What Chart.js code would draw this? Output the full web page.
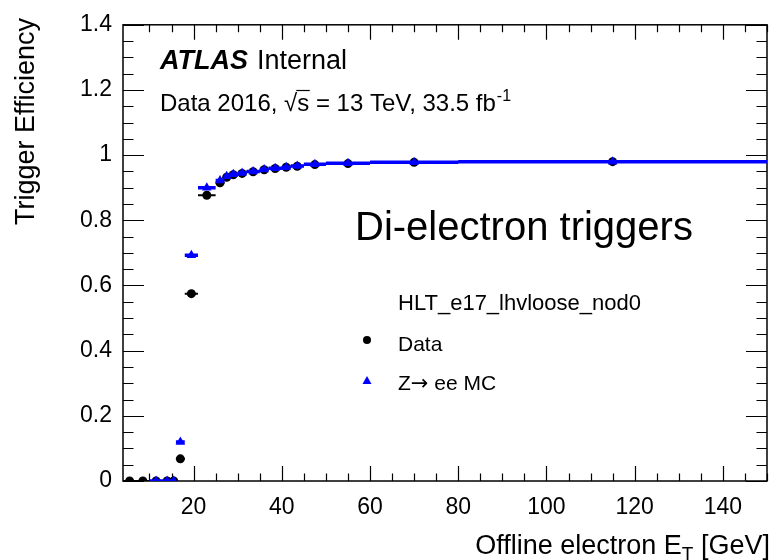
<!DOCTYPE html>
<html>
<head>
<meta charset="utf-8">
<script src="https://cdn.jsdelivr.net/npm/chart.js@4.4.1/dist/chart.umd.min.js"></script>
<style>
  html, body { margin: 0; padding: 0; background: #fff; overflow: hidden; }
  #wrap { width: 772px; height: 560px; overflow: hidden; }
</style>
</head>
<body>
<div id="wrap"><canvas id="effChart" width="780" height="560"></canvas></div>
<script>
// offline electron ET bins [GeV]
var etLow = [4, 7, 10, 13, 15, 16, 18, 21, 25, 27, 28, 30, 32, 35, 37, 40, 42, 45, 50, 60, 80];
var etHigh = [7, 10, 13, 15, 16, 18, 21, 25, 27, 28, 30, 32, 35, 37, 40, 42, 45, 50, 60, 80, 150];
var etCenter = [5.5, 8.5, 11.5, 14, 15.5, 17, 19.5, 23, 26, 27.5, 29, 31, 33.5, 36, 38.5, 41, 43.5, 47.5, 55, 70, 115];

// trigger efficiency, data 2016 and Z->ee MC
var dataEff = [0, 0, 0, 0, 0, 0.068, 0.575, 0.877, 0.915, 0.932, 0.94, 0.944, 0.949, 0.955, 0.959, 0.963, 0.966, 0.971, 0.974, 0.978, 0.980];
var mcEff = [null, null, 0, 0, 0, 0.12, 0.693, 0.90, 0.922, 0.935, 0.941, 0.945, 0.95, 0.956, 0.96, 0.963, 0.967, 0.972, 0.975, 0.978, 0.980];

var xTickLabels = [20, 40, 60, 80, 100, 120, 140];
var yTickLabels = [0, 0.2, 0.4, 0.6, 0.8, 1, 1.2, 1.4];

var FONT = '"Liberation Sans", Arial, Helvetica, sans-serif';

function points(vals) {
  var out = [];
  for (var i = 0; i < vals.length; i++) {
    if (vals[i] === null) continue;
    out.push({ x: etCenter[i], y: vals[i] });
  }
  return out;
}

// horizontal bars spanning each bin, separated by gaps
function binBars(vals) {
  var out = [];
  for (var i = 0; i < vals.length; i++) {
    if (vals[i] === null) continue;
    out.push({ x: etLow[i], y: vals[i] });
    out.push({ x: etHigh[i], y: vals[i] });
    out.push({ x: etHigh[i], y: null });
  }
  return out;
}

var framePlugin = {
  id: "frame",
  beforeDatasetsDraw: function (chart) {
    var ctx = chart.ctx;
    var a = chart.chartArea;
    var xs = chart.scales.x;
    var ys = chart.scales.y;
    ctx.save();
    ctx.strokeStyle = "#000";
    ctx.lineWidth = 1.5;
    ctx.strokeRect(a.left, a.top, a.right - a.left, a.bottom - a.top);
    ctx.lineWidth = 1.2;
    ctx.beginPath();
    xs.ticks.forEach(function (t) {
      var v = t.value;
      if (Math.abs(v / 5 - Math.round(v / 5)) > 1e-6) return;
      var len = Math.round(v) % 20 === 0 ? 15 : 7.5;
      var px = Math.round(xs.getPixelForValue(v)) + 0.5;
      ctx.moveTo(px, a.bottom);
      ctx.lineTo(px, a.bottom - len);
      ctx.moveTo(px, a.top);
      ctx.lineTo(px, a.top + len);
    });
    ys.ticks.forEach(function (t) {
      var k = Math.round(t.value * 100);
      var len = k % 20 === 0 ? 21 : 10.5;
      var py = Math.round(ys.getPixelForValue(t.value)) + 0.5;
      ctx.moveTo(a.left, py);
      ctx.lineTo(a.left + len, py);
      ctx.moveTo(a.right, py);
      ctx.lineTo(a.right - len, py);
    });
    ctx.stroke();
    ctx.restore();
  },
  afterDraw: function (chart) {
    var ctx = chart.ctx;
    ctx.save();
    ctx.fillStyle = "#000";
    ctx.textBaseline = "alphabetic";
    ctx.textAlign = "left";

    // ATLAS Internal
    ctx.font = "italic bold 27px " + FONT;
    ctx.fillText("ATLAS", 160, 69);
    var w = ctx.measureText("ATLAS").width;
    ctx.font = "27px " + FONT;
    ctx.fillText("Internal", 160 + w + 9, 69);

    // Data 2016, sqrt(s) = 13 TeV, 33.5 fb-1
    ctx.font = "24px " + FONT;
    var x = 160;
    var y = 111;
    ctx.fillText("Data 2016, \u221A", x, y);
    x += ctx.measureText("Data 2016, \u221A").width;
    var sw = ctx.measureText("s").width;
    ctx.fillText("s", x, y);
    ctx.lineWidth = 1.2;
    ctx.beginPath();
    ctx.moveTo(x - 1, y - 20.5);
    ctx.lineTo(x + sw + 0.5, y - 20.5);
    ctx.stroke();
    x += sw;
    ctx.fillText(" = 13 TeV, 33.5 fb", x, y);
    x += ctx.measureText(" = 13 TeV, 33.5 fb").width;
    ctx.font = "16px " + FONT;
    ctx.fillText("-1", x + 1, y - 10);

    // big label
    ctx.font = "40px " + FONT;
    ctx.fillText("Di-electron triggers", 355, 240);

    // legend
    ctx.font = "22px " + FONT;
    ctx.fillText("HLT_e17_lhvloose_nod0", 398, 310);
    ctx.font = "21px " + FONT;
    ctx.fillText("Data", 398, 351);
    ctx.fillText("Z", 398, 390);
    var zw = ctx.measureText("Z").width;
    ctx.font = '21px "DejaVu Sans", ' + FONT;
    ctx.fillText("\u2192", 398 + zw, 390);
    var aw = ctx.measureText("\u2192").width;
    ctx.font = "21px " + FONT;
    ctx.fillText(" ee MC", 398 + zw + aw, 390);
    ctx.beginPath();
    ctx.arc(367, 340, 4, 0, Math.PI * 2);
    ctx.fill();
    ctx.fillStyle = "#0000ff";
    ctx.beginPath();
    ctx.moveTo(367, 376);
    ctx.lineTo(371.5, 384);
    ctx.lineTo(362.5, 384);
    ctx.closePath();
    ctx.fill();
    ctx.fillStyle = "#000";

    // x axis title, right aligned
    ctx.font = "27px " + FONT;
    var p1 = "Offline electron E";
    var p3 = " [GeV]";
    var w1 = ctx.measureText(p1).width;
    var w3 = ctx.measureText(p3).width;
    ctx.font = "19px " + FONT;
    var w2 = ctx.measureText("T").width;
    var x0 = 770 - (w1 + w2 + w3);
    ctx.font = "27px " + FONT;
    ctx.fillText(p1, x0, 554);
    ctx.fillText(p3, x0 + w1 + w2, 554);
    ctx.font = "19px " + FONT;
    ctx.fillText("T", x0 + w1, 560);

    // y axis title, rotated, at the top end
    ctx.font = "27px " + FONT;
    ctx.translate(34, 18);
    ctx.rotate(-Math.PI / 2);
    ctx.textAlign = "right";
    ctx.fillText("Trigger Efficiency", 0, 0);
    ctx.restore();
  }
};

var ctx = document.getElementById("effChart").getContext("2d");
new Chart(ctx, {
  type: "scatter",
  data: {
    datasets: [
      {
        label: "Z\u2192 ee MC",
        data: points(mcEff),
        pointStyle: "triangle",
        pointRadius: 5.5,
        pointHoverRadius: 5.5,
        backgroundColor: "#0000ff",
        borderColor: "#0000ff",
        borderWidth: 0,
        order: 0,
      },
      {
        label: "MC bins",
        type: "line",
        data: binBars(mcEff),
        borderColor: "#0000ff",
        borderWidth: 3.5,
        pointRadius: 0,
        spanGaps: false,
        showLine: true,
        order: 1,
      },
      {
        label: "Data",
        data: points(dataEff),
        pointStyle: "circle",
        pointRadius: 4.5,
        pointHoverRadius: 4.5,
        backgroundColor: "#000",
        borderColor: "#000",
        borderWidth: 0,
        order: 2,
      },
      {
        label: "Data bins",
        type: "line",
        data: binBars(dataEff),
        borderColor: "#000",
        borderWidth: 2,
        pointRadius: 0,
        spanGaps: false,
        showLine: true,
        order: 3,
      },
    ],
  },
  options: {
    responsive: false,
    animation: false,
    devicePixelRatio: 1,
    layout: { padding: { top: 15, right: 4, left: 0, bottom: 0 } },
    plugins: { legend: { display: false }, tooltip: { enabled: false } },
    scales: {
      x: {
        type: "linear",
        min: 4,
        max: 150,
        grid: { display: false, drawTicks: false },
        border: { display: false },
        ticks: {
          stepSize: 5,
          maxTicksLimit: 100,
          autoSkip: false,
          maxRotation: 0,
          padding: 13,
          color: "#000",
          font: { family: FONT, size: 23 },
          callback: function (v) {
            return xTickLabels.indexOf(Math.round(v)) >= 0 && Math.abs(v - Math.round(v)) < 1e-6 ? String(Math.round(v)) : "";
          },
        },
        afterFit: function (s) { s.height = 79; },
      },
      y: {
        min: 0,
        max: 1.4,
        grid: { display: false, drawTicks: false },
        border: { display: false },
        ticks: {
          stepSize: 0.05,
          maxTicksLimit: 100,
          autoSkip: false,
          padding: 11,
          color: "#000",
          font: { family: FONT, size: 23 },
          callback: function (v) {
            var k = Math.round(v * 100) / 100;
            return yTickLabels.indexOf(k) >= 0 && Math.abs(v - k) < 1e-6 ? String(k) : "";
          },
        },
        afterFit: function (s) { s.width = 123; },
      },
    },
  },
  plugins: [framePlugin],
});
</script>
</body>
</html>
